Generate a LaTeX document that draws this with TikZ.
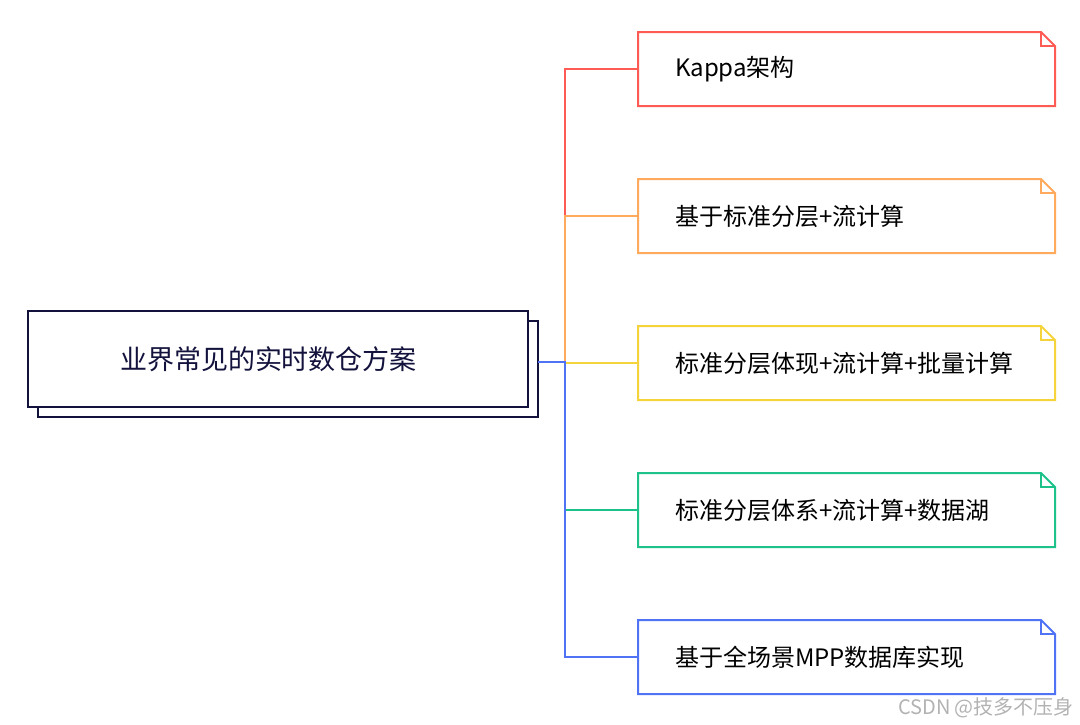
\documentclass[tikz,border=0pt]{standalone}
\usepackage{fontspec}
\setmainfont{Noto Sans CJK SC}
\usetikzlibrary{shadows}
\definecolor{navy}{HTML}{13123D}
\definecolor{kred}{HTML}{FF5B55}
\definecolor{korange}{HTML}{FFAA5C}
\definecolor{kyellow}{HTML}{F5D33A}
\definecolor{kgreen}{HTML}{1DC28B}
\definecolor{kblue}{HTML}{5073F6}
\begin{document}
\begin{tikzpicture}[x=1pt,y=-1pt,line width=2pt,line join=miter,
	rootbox/.style={draw=navy,fill=white,text=navy,minimum height=96pt,inner xsep=92pt,
		text width=316pt,align=left,font=\fontsize{27}{30}\selectfont,
		copy shadow={shadow xshift=10pt,shadow yshift=-10pt}},
	notebox/.style={anchor=west,outer sep=0pt,minimum height=74pt,inner xsep=37pt,
		text width=343pt,align=left,font=\fontsize{24}{28}\selectfont}]
\useasboundingbox (0,0) rectangle (1080,724);
\node[rootbox] (root) at (278,359) {业界常见的实时数仓方案};
\coordinate (rootout) at (538,362);
\coordinate (hub) at (565,362);
\foreach \i/\c/\y/\t in {1/kred/69/Kappa架构, 2/korange/216/基于标准分层+流计算,
	3/kyellow/363/标准分层体现+流计算+批量计算, 4/kgreen/510/标准分层体系+流计算+数据湖,
	5/kblue/657/基于全场景MPP数据库实现} {
	\node[notebox] (n\i) at (638,\y) {\t};
	\draw[\c] (n\i.north west) -- ([xshift=-14pt]n\i.north east) -- ([yshift=-14pt]n\i.north east)
		-- (n\i.south east) -- (n\i.south west) -- cycle;
	\draw[\c] ([xshift=-14pt]n\i.north east) |- ([yshift=-14pt]n\i.north east);
	\draw[\c] (rootout) -- (hub) |- (n\i.west);
}
\node[text=black!30,font=\fontsize{20}{22}\selectfont] (mark) at (986,708) {CSDN @技多不压身};
\end{tikzpicture}
\end{document}
